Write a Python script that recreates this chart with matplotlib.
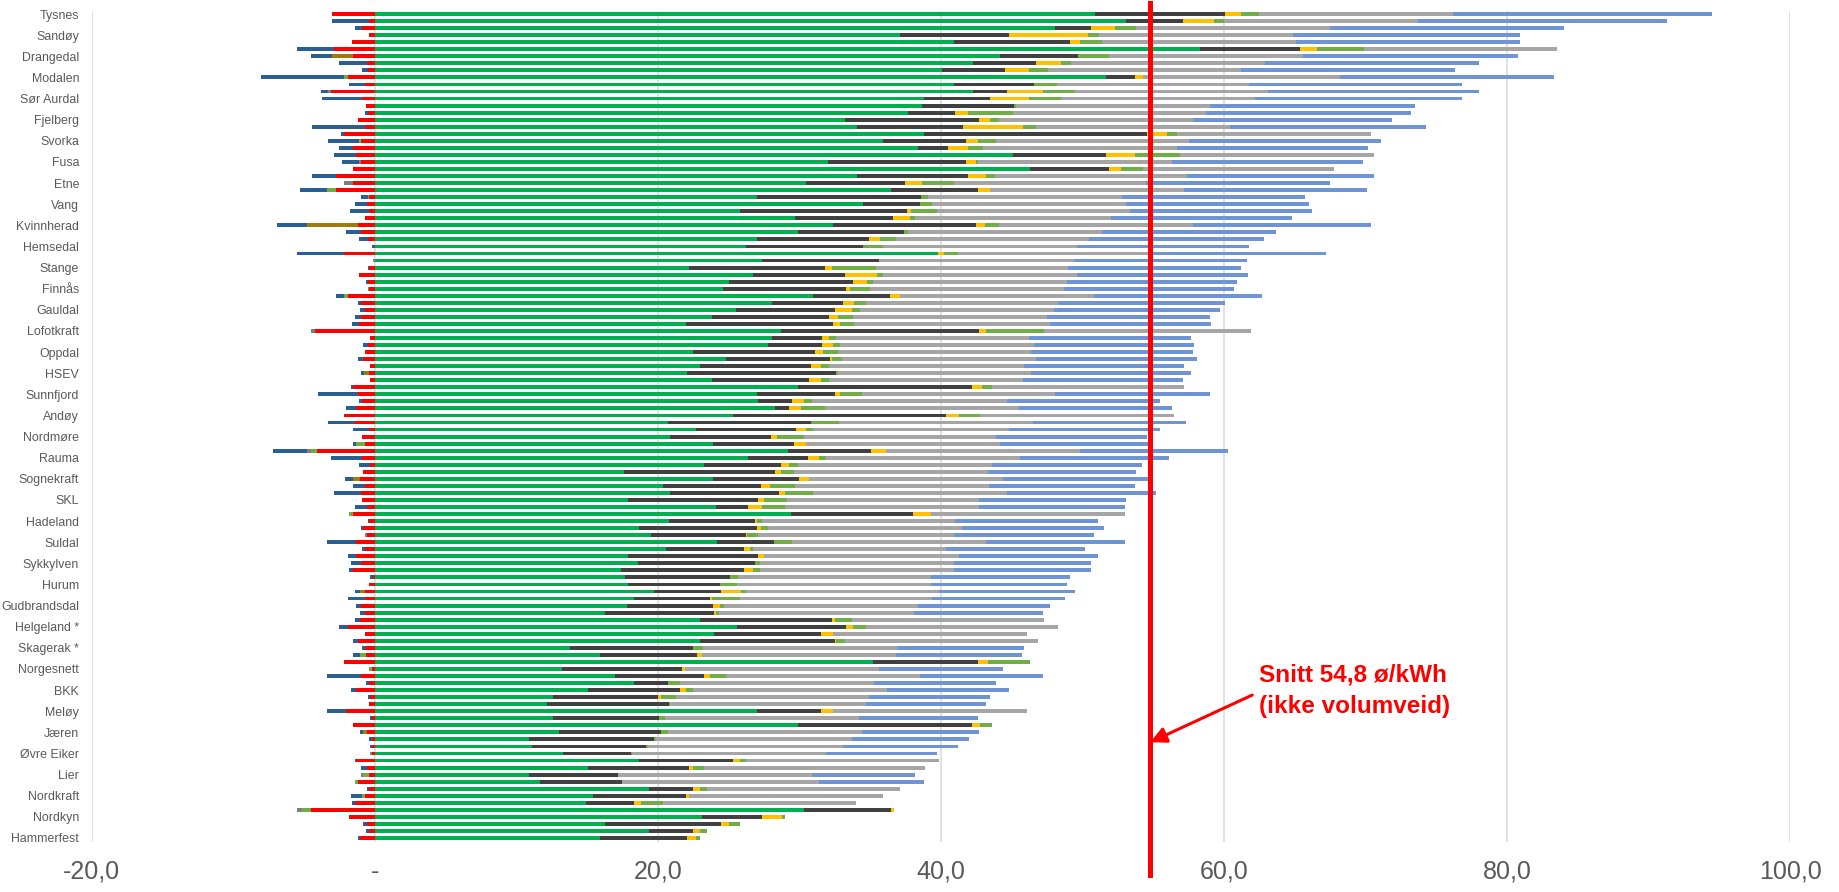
import numpy as np
import matplotlib
matplotlib.use('Agg')
import matplotlib.pyplot as plt
from matplotlib import font_manager
from matplotlib.ticker import FuncFormatter, MultipleLocator

plt.rcParams['font.family'] = ['Liberation Sans', 'DejaVu Sans']
installed = {f.name for f in font_manager.fontManager.ttflist}
if 'Liberation Sans Narrow' in installed:
    label_font, label_size = 'Liberation Sans Narrow', 10.5
else:
    label_font, label_size = 'Liberation Sans', 8.9

# only every third company is labelled on the axis
shown_labels = ['Tysnes', 'Sandøy', 'Drangedal', 'Modalen', 'Sør Aurdal', 'Fjelberg', 'Svorka',
                'Fusa', 'Etne', 'Vang', 'Kvinnherad', 'Hemsedal', 'Stange', 'Finnås', 'Gauldal',
                'Lofotkraft', 'Oppdal', 'HSEV', 'Sunnfjord', 'Andøy', 'Nordmøre', 'Rauma',
                'Sognekraft', 'SKL', 'Hadeland', 'Suldal', 'Sykkylven', 'Hurum', 'Gudbrandsdal',
                'Helgeland *', 'Skagerak *', 'Norgesnett', 'BKK', 'Meløy', 'Jæren', 'Øvre Eiker',
                'Lier', 'Nordkraft', 'Nordkyn', 'Hammerfest']

snitt = 54.8

# positive components (øre/kWh), top row first
green = [50.9, 53.1, 48.1, 37.1, 40.9, 58.3, 44.2, 42.3, 40.1, 51.7,
         40.9, 42.3, 38.8, 38.7, 37.7, 33.2, 34.1, 38.8, 35.9, 38.4,
         45.1, 32.0, 46.3, 34.1, 30.5, 36.5, 27.0, 34.5, 25.8, 29.7,
         32.4, 29.9, 27.0, 26.2, 39.8, 27.4, 22.2, 26.7, 25.0, 24.6,
         31.0, 28.1, 25.5, 23.8, 22.0, 28.7, 28.1, 27.8, 22.5, 24.8,
         23.0, 22.1, 23.8, 29.9, 27.0, 27.1, 28.3, 25.3, 20.7, 22.7,
         20.9, 23.9, 29.2, 26.4, 23.3, 17.6, 23.9, 20.4, 20.9, 17.9,
         24.1, 29.4, 20.8, 18.7, 19.5, 24.2, 20.6, 17.9, 18.6, 17.4,
         17.7, 17.9, 19.7, 18.3, 17.8, 16.3, 23.0, 25.6, 24.0, 23.0,
         13.8, 15.9, 35.2, 13.2, 17.0, 18.3, 15.1, 12.6, 12.2, 27.0,
         12.6, 29.9, 13.0, 10.9, 11.1, 13.3, 18.7, 15.1, 10.9, 11.7,
         19.4, 15.4, 14.9, 30.3, 23.1, 16.3, 19.4, 15.9]

dark = [9.2, 4.0, 2.5, 7.7, 8.2, 7.1, 5.5, 4.4, 4.4, 2.0,
        5.7, 2.4, 4.7, 6.5, 3.3, 9.5, 7.5, 15.8, 5.9, 2.1,
        6.6, 9.8, 5.6, 7.8, 7.0, 6.1, 11.6, 4.0, 11.8, 6.9,
        10.1, 7.5, 7.9, 8.3, 0.0, 8.2, 9.6, 6.5, 8.8, 8.7,
        5.4, 5.0, 7.0, 8.3, 10.4, 14.0, 3.5, 3.8, 8.6, 7.4,
        7.8, 10.5, 6.9, 12.3, 5.5, 2.4, 1.0, 15.1, 10.1, 7.1,
        7.1, 5.7, 5.9, 4.2, 5.4, 10.7, 6.1, 6.9, 7.7, 9.2,
        2.3, 8.6, 6.1, 8.3, 6.7, 4.0, 5.5, 9.2, 8.3, 8.7,
        7.4, 6.5, 4.8, 5.4, 6.1, 7.7, 9.3, 7.7, 7.5, 9.5,
        8.7, 6.9, 7.4, 8.5, 6.3, 2.4, 6.5, 7.4, 8.6, 4.5,
        7.5, 12.3, 7.2, 8.8, 8.1, 4.8, 6.6, 7.1, 6.3, 5.8,
        3.1, 6.6, 3.4, 6.2, 4.3, 8.2, 3.1, 6.2]

yellow = [1.1, 2.2, 1.7, 5.6, 0.7, 1.2, 0.0, 1.8, 1.7, 0.6,
          0.0, 2.5, 2.7, 0.0, 0.9, 0.8, 4.2, 1.4, 0.8, 1.4,
          2.0, 0.7, 0.8, 1.3, 1.2, 0.9, 0.0, 0.0, 0.3, 1.2,
          0.6, 0.0, 0.8, 0.0, 0.4, 0.0, 0.5, 2.3, 1.0, 0.3,
          0.7, 0.8, 1.2, 0.6, 0.5, 0.5, 0.5, 0.8, 0.6, 0.1,
          0.7, 0.0, 0.8, 0.7, 0.4, 0.8, 0.8, 0.9, 0.0, 0.7,
          0.4, 0.9, 1.0, 0.8, 0.6, 0.4, 0.7, 0.6, 0.4, 0.4,
          1.0, 1.3, 0.1, 0.3, 0.1, 0.0, 0.4, 0.4, 0.0, 0.6,
          0.0, 0.0, 1.4, 0.1, 0.5, 0.1, 0.2, 0.5, 0.9, 0.1,
          0.0, 0.3, 0.7, 0.2, 0.4, 0.0, 0.4, 0.2, 0.0, 0.9,
          0.0, 0.6, 0.0, 0.0, 0.0, 0.0, 0.5, 0.3, 0.0, 0.0,
          0.5, 0.2, 0.5, 0.2, 1.4, 0.5, 0.5, 0.6]

olive = [1.3, 0.7, 1.5, 0.8, 1.6, 3.3, 2.2, 0.7, 1.4, 0.0,
         1.6, 2.3, 2.3, 0.1, 3.2, 0.6, 0.9, 0.7, 1.3, 1.1,
         3.2, 0.1, 1.6, 0.6, 2.2, 0.0, 0.5, 0.9, 1.8, 0.4,
         1.0, 0.3, 1.1, 1.4, 1.0, 0.0, 3.1, 0.4, 0.4, 1.4,
         0.0, 0.8, 0.6, 1.1, 1.0, 4.1, 0.5, 0.5, 1.0, 0.7,
         0.6, 0.1, 0.6, 0.7, 1.5, 0.6, 1.7, 1.5, 2.0, 0.5,
         1.9, 0.0, 0.0, 0.5, 0.6, 0.9, 0.0, 1.8, 2.0, 1.6,
         1.6, 0.0, 0.4, 0.5, 0.8, 1.3, 0.2, 0.0, 0.3, 0.5,
         0.6, 1.2, 0.3, 2.0, 0.3, 0.2, 1.2, 0.9, 0.0, 0.6,
         0.7, 0.0, 3.0, 0.0, 1.1, 0.9, 0.5, 1.1, 0.1, 0.0,
         0.4, 0.8, 0.5, 0.2, 0.1, 0.1, 0.4, 0.8, 0.0, 0.0,
         0.5, 0.0, 1.6, 0.0, 0.2, 0.8, 0.5, 0.3]

gray = [13.7, 13.7, 13.7, 13.7, 13.7, 13.6, 13.7, 13.7, 13.6, 13.9,
        13.6, 13.6, 13.7, 13.7, 13.6, 13.7, 13.7, 13.7, 13.6, 13.7,
        13.7, 13.7, 13.5, 13.6, 13.6, 13.7, 13.7, 13.7, 13.7, 13.8,
        13.7, 13.7, 13.7, 13.7, 13.7, 13.8, 13.6, 13.7, 13.7, 13.7,
        13.7, 13.6, 13.7, 13.7, 13.8, 14.6, 13.6, 13.7, 13.7, 13.7,
        13.8, 13.7, 13.7, 13.6, 13.7, 13.8, 13.7, 13.7, 13.7, 13.8,
        13.6, 13.7, 13.7, 13.7, 13.7, 13.7, 13.7, 13.7, 13.7, 13.6,
        13.7, 13.7, 13.6, 13.7, 13.8, 13.7, 13.7, 13.8, 13.7, 13.7,
        13.6, 13.7, 13.7, 13.6, 13.7, 13.8, 13.6, 13.6, 13.7, 13.7,
        13.7, 13.7, 0.0, 13.7, 13.7, 13.7, 13.7, 13.6, 13.8, 13.7,
        13.7, 0.0, 13.7, 13.8, 13.8, 13.7, 13.7, 15.6, 13.7, 13.9,
        13.6, 13.7, 13.6, 0.0, 0.0, 0.0, 0.0, 0.0]

blue = [18.3, 17.6, 16.5, 16.0, 15.8, 0.0, 15.2, 15.1, 15.1, 15.1,
        15.0, 14.9, 14.6, 14.5, 14.5, 14.1, 13.9, 0.0, 13.6, 13.5,
        0.0, 13.5, 0.0, 13.2, 13.0, 12.9, 12.9, 12.9, 12.8, 12.8,
        12.6, 12.3, 12.3, 12.2, 12.3, 12.2, 12.2, 12.1, 12.0, 12.0,
        11.9, 11.8, 11.7, 11.5, 11.4, 0.0, 11.5, 11.3, 11.4, 11.4,
        11.3, 11.3, 11.3, 0.0, 10.9, 10.8, 10.8, 0.0, 10.8, 10.7,
        10.7, 10.5, 10.5, 10.5, 10.6, 10.5, 10.5, 10.3, 10.5, 10.4,
        10.3, 0.0, 10.1, 10.0, 9.9, 9.8, 9.8, 9.8, 9.7, 9.7,
        9.8, 9.6, 9.6, 9.4, 9.3, 9.1, 0.0, 0.0, 0.0, 0.0,
        9.0, 8.9, 0.0, 8.8, 8.7, 8.6, 8.6, 8.6, 8.5, 0.0,
        8.4, 0.0, 8.3, 8.3, 8.1, 7.8, 0.0, 0.0, 7.3, 7.4,
        0.0, 0.0, 0.0, 0.0, 0.0, 0.0, 0.0, 0.0]

# negative components (magnitudes), stacked leftwards from zero
neg_red = [3.0, 0.4, 0.9, 0.4, 1.6, 2.9, 1.5, 0.55, 0.5, 1.9,
           0.7, 3.1, 0.9, 0.64, 0.5, 1.15, 0.7, 2.2, 1.0, 1.5,
           1.3, 1.0, 1.56, 2.75, 1.56, 2.7, 0.4, 0.55, 0.37, 0.7,
           1.15, 1.0, 0.46, 0.0, 2.2, 0.0, 0.37, 1.1, 0.46, 0.4,
           1.9, 1.0, 0.7, 1.0, 1.1, 4.2, 0.3, 0.46, 0.7, 0.8,
           0.3, 0.37, 0.3, 1.5, 1.15, 0.9, 1.3, 2.2, 1.4, 0.37,
           0.9, 0.7, 4.1, 0.9, 0.3, 0.8, 1.05, 0.7, 1.0, 0.9,
           0.55, 1.56, 0.37, 0.8, 0.55, 1.3, 0.7, 1.3, 1.0, 1.56,
           0.1, 0.37, 0.7, 0.7, 1.0, 0.7, 1.05, 1.9, 0.7, 1.2,
           0.7, 0.6, 2.2, 0.2, 1.0, 0.4, 1.3, 0.3, 0.37, 2.0,
           0.2, 1.5, 0.55, 0.2, 0.2, 0.2, 1.3, 0.55, 0.37, 1.2,
           0.37, 0.7, 1.4, 4.5, 1.8, 0.55, 0.4, 1.05]

neg_olive = [0, 0, 0, 0, 0, 0, 0, 0, 0, 0.3,
             0, 0, 0, 0, 0, 0, 0, 0, 0.1, 0,
             0, 0, 0, 0, 0, 0.7, 0.1, 0, 0, 0,
             0, 0, 0, 0, 0, 0, 0, 0, 0, 0,
             0.3, 0, 0, 0, 0, 0, 0, 0, 0, 0,
             0, 0, 0, 0, 0, 0, 0, 0, 0, 0,
             0, 0.6, 0.4, 0, 0, 0, 0, 0, 0, 0,
             0, 0.24, 0, 0, 0, 0, 0, 0, 0, 0,
             0, 0, 0, 0, 0, 0, 0, 0, 0, 0,
             0, 0.45, 0, 0.2, 0, 0, 0, 0, 0, 0,
             0, 0, 0, 0, 0, 0, 0, 0, 0.43, 0.2,
             0, 0.2, 0, 0.6, 0, 0, 0, 0]

neg_gray = [0, 0, 0, 0, 0, 0, 0, 0, 0, 0,
            0, 0.2, 0, 0, 0, 0, 0, 0, 0, 0,
            0, 0.1, 0, 0, 0.6, 0, 0, 0, 0, 0,
            0, 0, 0, 0, 0, 0.1, 0, 0, 0, 0.1,
            0, 0, 0, 0, 0, 0.3, 0, 0, 0, 0,
            0, 0, 0, 0, 0, 0, 0, 0, 0, 0,
            0, 0, 0.3, 0, 0, 0, 0, 0, 0, 0,
            0, 0, 0, 0, 0.15, 0, 0, 0, 0, 0,
            0, 0, 0, 0, 0, 0, 0, 0, 0, 0,
            0, 0, 0, 0, 0, 0, 0, 0, 0, 0,
            0, 0, 0, 0, 0, 0.1, 0, 0, 0.15, 0,
            0, 0, 0, 0.4, 0, 0, 0, 0]

neg_brown = [0, 0, 0, 0, 0, 0, 1.5, 0, 0, 0,
             0, 0, 0, 0, 0, 0, 0, 0, 0, 0,
             0, 0, 0, 0, 0, 0, 0, 0, 0, 0,
             3.65, 0, 0, 0, 0, 0, 0, 0, 0, 0,
             0, 0, 0, 0, 0, 0, 0, 0, 0, 0,
             0, 0.36, 0, 0, 0, 0, 0, 0, 0, 0,
             0, 0, 0, 0, 0, 0, 0.45, 0, 0, 0,
             0, 0, 0, 0, 0, 0, 0, 0, 0, 0,
             0, 0, 0.35, 0, 0, 0, 0, 0, 0, 0,
             0, 0, 0, 0, 0, 0, 0, 0, 0, 0,
             0, 0, 0.25, 0, 0, 0, 0, 0, 0, 0,
             0, 0, 0, 0, 0, 0, 0, 0]

neg_blue = [0, 2.6, 0.5, 0, 0, 2.6, 1.5, 1.95, 0.4, 5.8,
            1.1, 0.5, 2.8, 0, 0.2, 0, 3.7, 0.2, 2.2, 1.0,
            1.6, 1.2, 0, 1.65, 0, 1.9, 0.5, 0.85, 1.4, 0,
            2.1, 1.0, 0.64, 0.2, 3.3, 0, 0.13, 0, 0.14, 0,
            0.55, 0.2, 0.35, 0.4, 0.5, 0, 0, 0.34, 0, 0.35,
            0, 0.27, 0, 0.2, 2.85, 0.2, 0.7, 0, 1.9, 1.13,
            0, 0.2, 2.4, 2.2, 0.8, 0, 0.6, 0.8, 1.85, 0,
            0.85, 0, 0.13, 0.2, 0, 2.05, 0.2, 0.6, 0.7, 0.24,
            0.2, 0, 0.35, 1.2, 0.3, 0.35, 0.35, 0.6, 0, 0.3,
            0.2, 0.45, 0, 0, 2.4, 0.24, 0.4, 0.2, 0, 1.4,
            0.1, 0, 0.25, 0.2, 0.1, 0, 0.1, 0.45, 0, 0,
            0.18, 0.8, 0.2, 0, 0, 0.25, 0.2, 0.1]

n = len(green)
rows = np.arange(n)

fig = plt.figure(figsize=(18.39, 8.92), dpi=100)
ax = fig.add_axes([0.0498, 0.0566, 0.9236, 0.9316])

bar_h = 0.55
pos_series = [(green, '#00B050'), (dark, '#404040'), (yellow, '#FFC000'),
              (olive, '#70AD47'), (gray, '#A5A5A5'), (blue, '#6F94D6')]
left = np.zeros(n)
for vals, col in pos_series:
    vals = np.array(vals, dtype=float)
    ax.barh(rows, vals, left=left, height=bar_h, color=col, linewidth=0)
    left += vals

neg_series = [(neg_red, '#FF0000'), (neg_olive, '#70AD47'), (neg_gray, '#7F7F7F'),
              (neg_brown, '#9E7B0C'), (neg_blue, '#2A5F93')]
left = np.zeros(n)
for vals, col in neg_series:
    vals = -np.array(vals, dtype=float)
    ax.barh(rows, vals, left=left, height=bar_h, color=col, linewidth=0)
    left += vals

ax.set_xlim(-20, 100)
ax.set_ylim(n - 0.5, -0.5)
ax.xaxis.set_major_locator(MultipleLocator(20))
ax.xaxis.set_major_formatter(FuncFormatter(
    lambda v, p: '-' if abs(v) < 1e-9 else f'{v:.1f}'.replace('.', ',')))
ax.set_yticks(rows[::3])
ax.set_yticklabels(shown_labels, fontfamily=label_font)

ax.grid(axis='x', color='#D9D9D9', linewidth=1.1)
ax.set_axisbelow(True)
for s in ax.spines.values():
    s.set_visible(False)
ax.tick_params(axis='x', length=0, pad=13, labelsize=18, labelcolor='#595959')
ax.tick_params(axis='y', length=0, pad=9, labelsize=label_size, labelcolor='#595959')

# average line and note
ax.plot([snitt, snitt], [-1.5, 122.2], color='#FF0000', lw=3.6, clip_on=False, zorder=5)
ax.text(62.45, 93.9, 'Snitt 54,8 ø/kWh', color='#FF0000', fontsize=17.5,
        fontweight='bold', va='center', ha='left')
ax.text(62.45, 98.3, '(ikke volumveid)', color='#FF0000', fontsize=17.5,
        fontweight='bold', va='center', ha='left')
ax.annotate('', xy=(snitt, 103.4), xytext=(62.0, 96.7),
            arrowprops=dict(arrowstyle='-|>', color='#FF0000', lw=2.2,
                            mutation_scale=24, shrinkA=0, shrinkB=0))

fig.savefig('out.png', dpi=100)
